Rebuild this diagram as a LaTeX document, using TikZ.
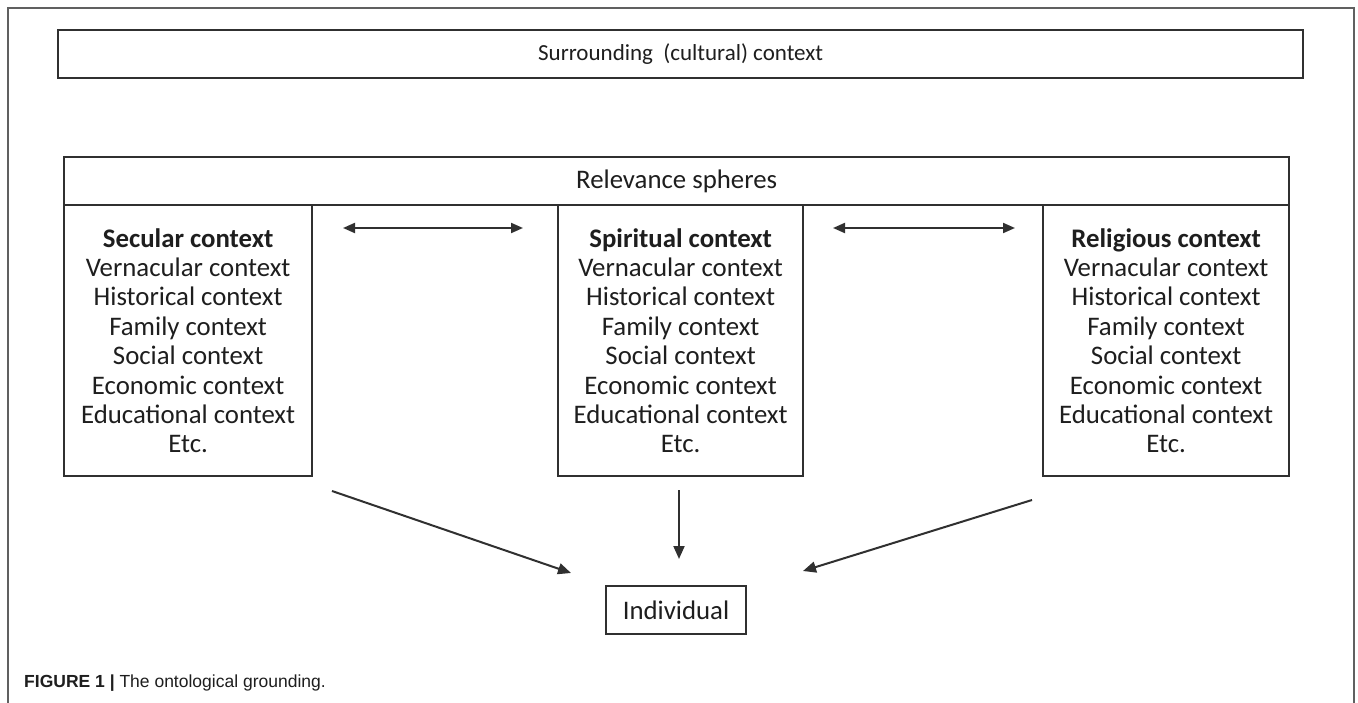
\documentclass[tikz,border=0pt]{standalone}
\usepackage{fontspec}
\setmainfont{Carlito}
\newfontfamily\capfont{Liberation Sans}
\usetikzlibrary{arrows.meta}
\definecolor{ink}{HTML}{1E1E1E}
\definecolor{boxline}{HTML}{303030}
\definecolor{frameline}{HTML}{606060}
\tikzset{
  frame/.style={draw=frameline, line width=1.4pt},
  box/.style={draw=boxline, line width=2.3pt, inner sep=0pt, text=ink,
    font=\fontsize{26.8}{29.4}\selectfont, align=center},
  col/.style={box, minimum width=#1, minimum height=271pt, anchor=north west},
  conn/.style={draw=boxline, line width=2pt, -{Triangle[length=13pt,width=11pt]}},
  dconn/.style={draw=boxline, line width=2pt, {Triangle[length=12pt,width=10pt]}-{Triangle[length=12pt,width=10pt]}}
}
\begin{document}
\begin{tikzpicture}[x=1pt,y=-1pt]
\useasboundingbox (0,0) rectangle (1358,703);
\fill[white] (0,0) rectangle (1358,703);
% outer frame
\draw[frame] (8,703) -- (8,8) -- (1354,8) -- (1354,703);
% surrounding context
\node[box, anchor=north west, minimum width=1245pt, minimum height=48pt, font=\fontsize{23}{27}\selectfont] (surr) at (57,29) {Surrounding\ \ (cultural) context};
% relevance spheres header
\node[box, anchor=north west, minimum width=1225pt, minimum height=48pt] (rel) at (63,156) {Relevance spheres};
% columns
\node[col=248pt] (sec) at (63,204) {\textbf{Secular context}\\Vernacular context\\Historical context\\Family context\\Social context\\Economic context\\Educational context\\Etc.};
\node[col=245pt] (spi) at (557,204) {\textbf{Spiritual context}\\Vernacular context\\Historical context\\Family context\\Social context\\Economic context\\Educational context\\Etc.};
\node[col=246pt] (rlg) at (1042,204) {\textbf{Religious context}\\Vernacular context\\Historical context\\Family context\\Social context\\Economic context\\Educational context\\Etc.};
% individual
\node[box, minimum width=140pt, minimum height=48pt] (ind) at (676,610) {Individual};
% arrow end points
\coordinate (a1s) at (343,228);
\coordinate (a1e) at (523,228);
\coordinate (a2s) at (833,228);
\coordinate (a2e) at (1015,228);
\coordinate (l1) at (332,491);
\coordinate (l2) at (571,573);
\coordinate (m1) at (679,490);
\coordinate (m2) at (679,559);
\coordinate (r1) at (1032,500);
\coordinate (r2) at (803,571);
\draw[dconn] (a1s) -- (a1e);
\draw[dconn] (a2s) -- (a2e);
\draw[conn] (l1) -- (l2);
\draw[conn] (m1) -- (m2);
\draw[conn] (r1) -- (r2);
% caption
\node[anchor=west, inner sep=0pt, text=ink, font=\capfont\fontsize{17.5}{20}\selectfont] (cap) at (24,683) {\textbf{FIGURE 1 |} The ontological grounding.};
\end{tikzpicture}
\end{document}
